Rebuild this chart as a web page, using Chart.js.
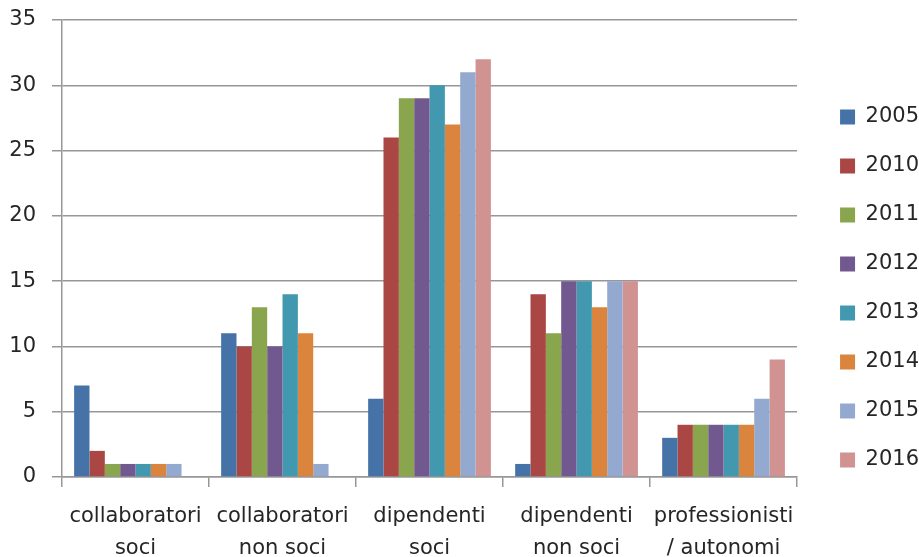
<!DOCTYPE html>
<html>
<head>
<meta charset="utf-8">
<script src="https://cdn.jsdelivr.net/npm/chart.js@4.4.1/dist/chart.umd.min.js"></script>
<style>
  html, body { margin: 0; padding: 0; background: #ffffff; }
  #c { display: block; }
</style>
</head>
<body>
<canvas id="c" width="919" height="557"></canvas>
<script>
// Categories (two-line axis labels)
const categories = [
  ["collaboratori", "soci"],
  ["collaboratori", "non soci"],
  ["dipendenti", "soci"],
  ["dipendenti", "non soci"],
  ["professionisti", "/ autonomi"]
];

// Series, one per year
const years = ["2005", "2010", "2011", "2012", "2013", "2014", "2015", "2016"];
const v2005 = [7, 11, 6, 1, 3];
const v2010 = [2, 10, 26, 14, 4];
const v2011 = [1, 13, 29, 11, 4];
const v2012 = [1, 10, 29, 15, 4];
const v2013 = [1, 14, 30, 15, 4];
const v2014 = [1, 11, 27, 13, 4];
const v2015 = [1, 1, 31, 15, 6];
const v2016 = [0, 0, 32, 15, 9];

// Value axis
const yMin = 0;
const yMax = 35;
const yStep = 5;

const seriesValues = [v2005, v2010, v2011, v2012, v2013, v2014, v2015, v2016];
const seriesColors = ["#4572A7", "#AA4643", "#89A54E", "#71588F", "#4198AF", "#DB843D", "#93A9CF", "#D19392"];

const gridColor = "#979797";
const textColor = "#262626";

Chart.defaults.font.family = "'DejaVu Sans', sans-serif";
Chart.defaults.font.size = 21;
Chart.defaults.color = textColor;

new Chart(document.getElementById("c"), {
  type: "bar",
  data: {
    labels: categories,
    datasets: years.map((y, i) => ({
      label: y,
      data: seriesValues[i],
      backgroundColor: seriesColors[i],
      borderWidth: 0,
      barPercentage: 1.0,
      categoryPercentage: 0.835
    }))
  },
  options: {
    responsive: false,
    animation: false,
    layout: { padding: { top: 20, left: 0, right: -10, bottom: 0 } },
    plugins: {
      tooltip: { enabled: false },
      legend: {
        position: "right",
        labels: {
          boxWidth: 15,
          boxHeight: 15,
          padding: 28,
          color: textColor,
          font: { size: 21 }
        }
      }
    },
    scales: {
      x: {
        grid: {
          display: true,
          offset: true,
          drawOnChartArea: false,
          drawTicks: true,
          tickLength: 10,
          color: gridColor,
          lineWidth: 1.5
        },
        border: { display: true, color: gridColor, width: 1.5 },
        ticks: {
          padding: 14,
          maxRotation: 0,
          autoSkip: false,
          color: textColor,
          font: { size: 21, lineHeight: 1.52 }
        },
        afterFit(scale) { scale.height = 80; }
      },
      y: {
        min: yMin,
        max: yMax,
        grid: {
          color: gridColor,
          lineWidth: 1.5,
          drawTicks: true,
          tickLength: 10
        },
        border: { display: true, color: gridColor, width: 1.5 },
        ticks: {
          stepSize: yStep,
          padding: 16,
          color: textColor,
          font: { size: 21 }
        },
        afterFit(scale) {
          scale.width = 62;
          scale.paddingTop = 0;
          scale.paddingBottom = 0;
        }
      },
      gap: {
        position: "right",
        display: true,
        grid: { display: false, drawTicks: false },
        border: { display: false },
        ticks: { display: false },
        afterFit(scale) { scale.width = 15; }
      }
    }
  }
});
</script>
</body>
</html>
